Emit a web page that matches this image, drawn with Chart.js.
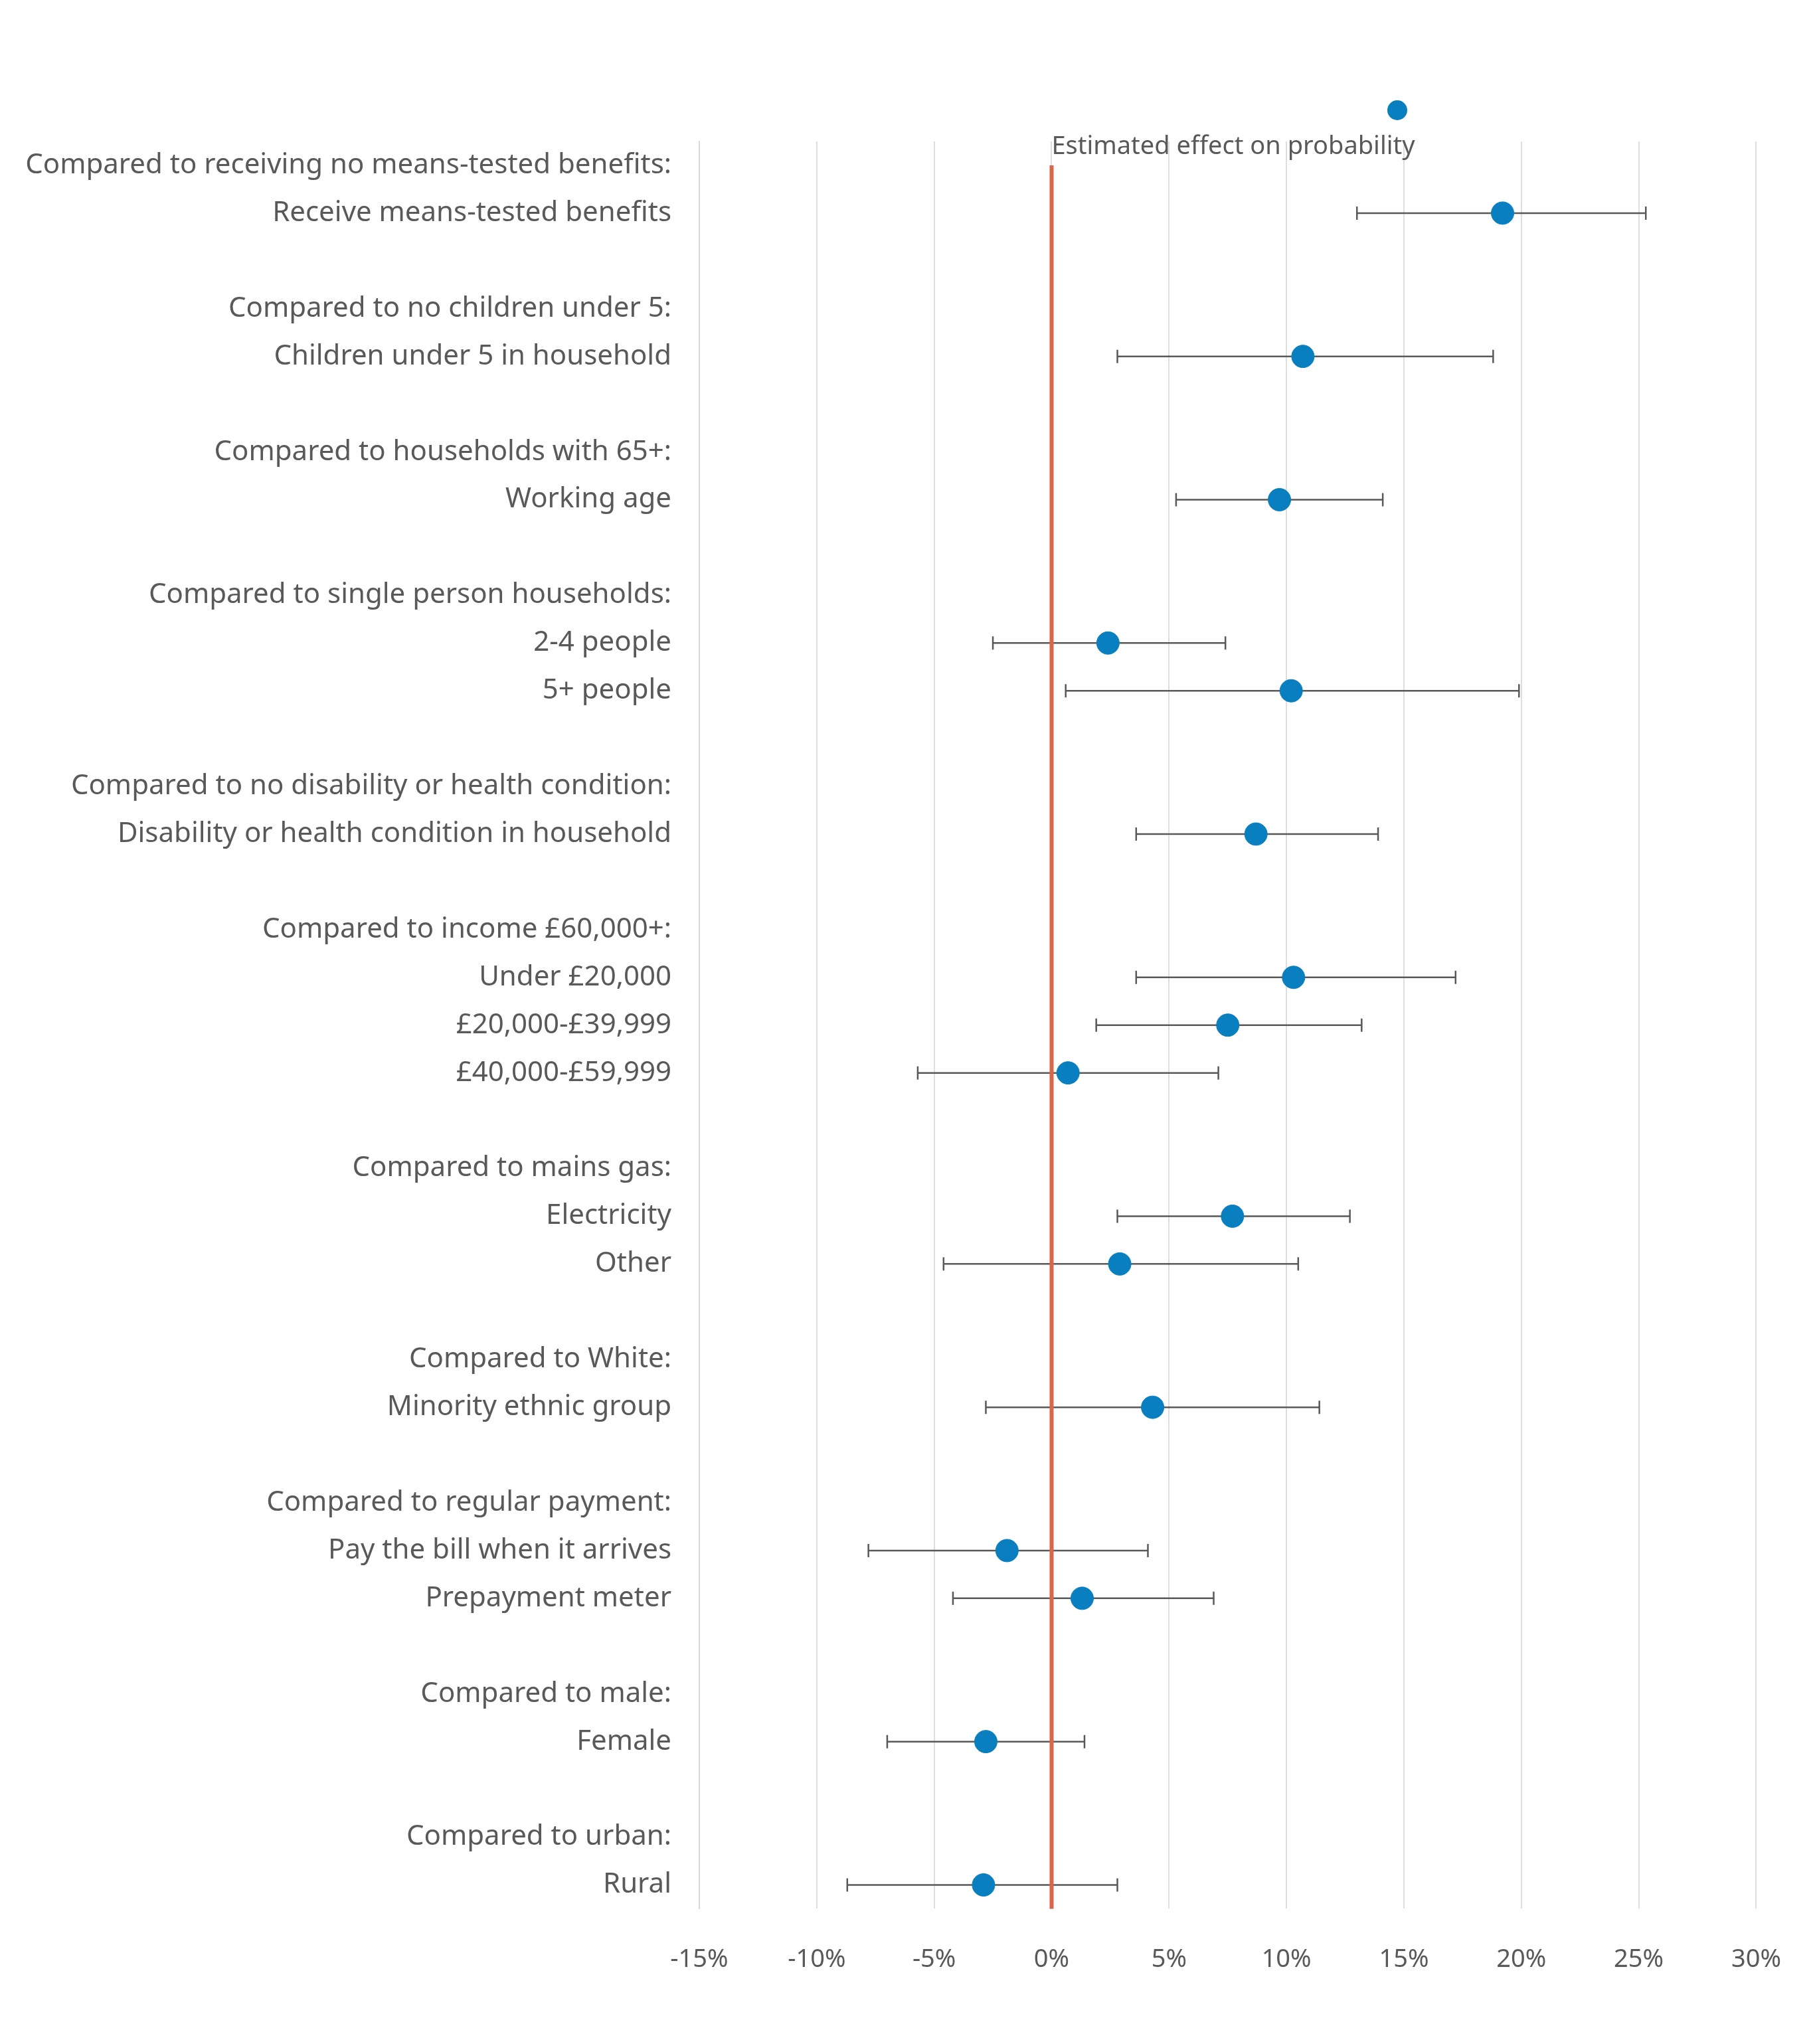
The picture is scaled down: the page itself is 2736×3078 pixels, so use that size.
<!DOCTYPE html>
<html><head><meta charset="utf-8">
<script src="https://cdn.jsdelivr.net/npm/chart.js@4"></script>
<style>html,body{margin:0;padding:0;background:#fff}canvas{display:block}</style>
</head><body>
<canvas id="c" width="2736" height="3078" style="width:2736px;height:3078px"></canvas>
<script>
const rowLabels = [
 "Compared to receiving no means-tested benefits:","Receive means-tested benefits","",
 "Compared to no children under 5:","Children under 5 in household","",
 "Compared to households with 65+:","Working age","",
 "Compared to single person households:","2-4 people","5+ people","",
 "Compared to no disability or health condition:","Disability or health condition in household","",
 "Compared to income £60,000+:","Under £20,000","£20,000-£39,999","£40,000-£59,999","",
 "Compared to mains gas:","Electricity","Other","",
 "Compared to White:","Minority ethnic group","",
 "Compared to regular payment:","Pay the bill when it arrives","Prepayment meter","",
 "Compared to male:","Female","",
 "Compared to urban:","Rural"
];
const itemRows = [1,4,7,10,11,14,17,18,19,22,23,26,29,30,33,36];
const estimates = [19.2,10.7,9.7,2.4,10.2,8.7,10.3,7.5,0.7,7.7,2.9,4.3,-1.9,1.3,-2.8,-2.9];
const lower =     [13.0,2.8,5.3,-2.5,0.6,3.6,3.6,1.9,-5.7,2.8,-4.6,-2.8,-7.8,-4.2,-7.0,-8.7];
const upper =     [25.3,18.8,14.1,7.4,19.9,13.9,17.2,13.2,7.1,12.7,10.5,11.4,4.1,6.9,1.4,2.8];
const xTicks = [-15,-10,-5,0,5,10,15,20,25,30];
const seriesName = "Estimated effect on probability";

const FONT = '"Noto Sans", "Open Sans", sans-serif';
const TXT = '#595959';
const DOT = '#0a7fc0';

const extras = {
  id:'extras',
  beforeDatasetsDraw(chart){
    const {ctx, scales:{x,y}, chartArea:a} = chart;
    ctx.save();
    ctx.strokeStyle='#595959'; ctx.lineWidth=2.5;
    itemRows.forEach((r,i)=>{
      const yy=y.getPixelForValue(r), x1=x.getPixelForValue(lower[i]), x2=x.getPixelForValue(upper[i]);
      ctx.beginPath(); ctx.moveTo(x1,yy); ctx.lineTo(x2,yy);
      ctx.moveTo(x1,yy-10); ctx.lineTo(x1,yy+10);
      ctx.moveTo(x2,yy-10); ctx.lineTo(x2,yy+10); ctx.stroke();
    });
    ctx.strokeStyle='#d9654b'; ctx.lineWidth=6;
    const x0=x.getPixelForValue(0);
    ctx.beginPath(); ctx.moveTo(x0,a.top+36); ctx.lineTo(x0,a.bottom); ctx.stroke();
    ctx.restore();
  },
  afterDraw(chart){
    const {ctx}=chart;
    ctx.save();
    ctx.fillStyle=DOT; ctx.beginPath(); ctx.arc(2104,166,15,0,Math.PI*2); ctx.fill();
    ctx.fillStyle=TXT; ctx.font='38px '+FONT; ctx.textAlign='center'; ctx.textBaseline='middle';
    ctx.fillText(seriesName,1857,221);
    ctx.restore();
  }
};

new Chart(document.getElementById('c'),{
  type:'scatter',
  data:{datasets:[{label:seriesName,
    data:itemRows.map((r,i)=>({x:estimates[i],y:rowLabels[r]})),
    backgroundColor:DOT,borderColor:DOT,pointRadius:17,pointHoverRadius:17}]},
  options:{
    responsive:false,animation:false,devicePixelRatio:1,
    layout:{padding:{top:213,right:56,bottom:50,left:0}},
    plugins:{legend:{display:false},tooltip:{enabled:false}},
    scales:{
      x:{type:'linear',min:-15,max:30,
        afterBuildTicks(s){s.ticks=xTicks.map(v=>({value:v}));},
        ticks:{callback:v=>v+'%',color:TXT,font:{family:FONT,size:38},padding:54},
        grid:{color:'#dedede',lineWidth:2,drawTicks:false},
        border:{display:false}},
      y:{type:'category',labels:rowLabels,offset:true,
        afterFit(s){s.width=1053;},
        ticks:{autoSkip:false,color:TXT,font:{family:FONT,size:42},padding:34,
          callback:(v,i)=>rowLabels[i]},
        grid:{display:false},
        border:{display:true,color:'#d9d9d9',width:2}}
    }
  },
  plugins:[extras]
});
</script>
</body></html>
